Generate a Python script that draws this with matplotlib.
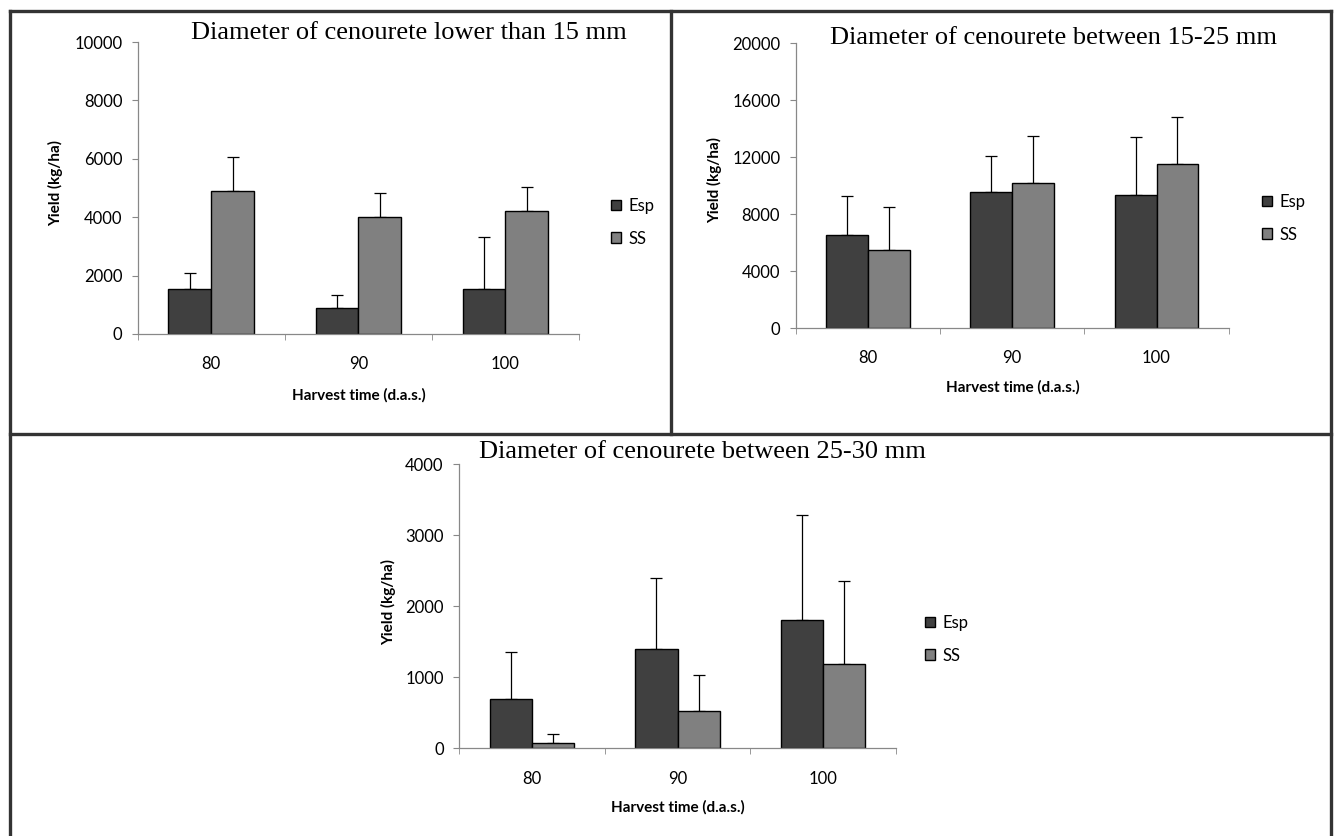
import matplotlib.pyplot as plt
from matplotlib.lines import Line2D
from matplotlib.patches import Patch
import numpy as np

W, H = 1335, 836

harvest = ["80", "90", "100"]
series = ["Esp", "SS"]

# panel 1: diameter < 15 mm
esp1 = [1540, 900, 1540]
ss1 = [4910, 4000, 4200]
esp1_top = [2090, 1330, 3330]
ss1_top = [6060, 4820, 5050]

# panel 2: diameter 15-25 mm
esp2 = [6500, 9550, 9350]
ss2 = [5450, 10200, 11500]
esp2_top = [9250, 12100, 13400]
ss2_top = [8500, 13500, 14800]

# panel 3: diameter 25-30 mm
esp3 = [690, 1400, 1810]
ss3 = [80, 520, 1190]
esp3_top = [1350, 2400, 3280]
ss3_top = [200, 1030, 2350]

titles = ["Diameter of cenourete lower than 15 mm",
          "Diameter of cenourete between 15-25 mm",
          "Diameter of cenourete between 25-30 mm"]

c_esp = "#404040"
c_ss = "#808080"

plt.rcParams['font.family'] = ['Lato', 'DejaVu Sans']

fig = plt.figure(figsize=(W / 100, H / 100), dpi=100)


def fx(px):
    return px / W


def fy(py):
    return 1 - py / H


def panel(rect, esp, ss, esp_top, ss_top, ymax, step, title_xy, leg_xy, xl_xy, yl_xy, title):
    ax = fig.add_axes(rect)
    x = np.arange(len(harvest))
    bw = 0.29
    err_e = [np.zeros(3), np.array(esp_top) - np.array(esp)]
    err_s = [np.zeros(3), np.array(ss_top) - np.array(ss)]
    ax.bar(x - bw / 2, esp, bw, color=c_esp, edgecolor="black", linewidth=1.0, zorder=2)
    ax.bar(x + bw / 2, ss, bw, color=c_ss, edgecolor="black", linewidth=1.0, zorder=2)
    ax.errorbar(x - bw / 2, esp, yerr=err_e, fmt="none", ecolor="black",
                elinewidth=0.9, capsize=4, capthick=0.9, zorder=1)
    ax.errorbar(x + bw / 2, ss, yerr=err_s, fmt="none", ecolor="black",
                elinewidth=0.9, capsize=4, capthick=0.9, zorder=1)
    ax.set_xlim(-0.5, 2.5)
    ax.set_ylim(0, ymax)
    ax.set_yticks(np.arange(0, ymax + 1, step))
    ax.set_xticks(x)
    ax.set_xticklabels(harvest)
    ax.set_xticks([-0.5, 0.5, 1.5, 2.5], minor=True)
    ax.tick_params(axis="x", which="major", length=0, pad=16, labelsize=12)
    ax.tick_params(axis="x", which="minor", length=4, color="#888888", direction="out")
    ax.tick_params(axis="y", length=4, color="#888888", pad=7, labelsize=12)
    for s in ["top", "right"]:
        ax.spines[s].set_visible(False)
    for s in ["left", "bottom"]:
        ax.spines[s].set_color("#888888")
        ax.spines[s].set_linewidth(0.9)
    ax.set_xlabel("Harvest time (d.a.s.)", fontsize=11, fontweight="bold")
    ax.xaxis.set_label_coords(fx(xl_xy[0]), fy(xl_xy[1]), transform=fig.transFigure)
    ax.xaxis.label.set_va("center")
    ax.set_ylabel("Yield (kg/ha)", fontsize=11, fontweight="bold")
    ax.yaxis.set_label_coords(fx(yl_xy[0]), fy(yl_xy[1]), transform=fig.transFigure)
    ax.yaxis.label.set_va("center")
    fig.text(fx(title_xy[0]), fy(title_xy[1]), title, ha="center", va="center",
             fontsize=19, family="Liberation Serif")
    handles = [Patch(facecolor=c_esp, edgecolor="black", linewidth=1.0),
               Patch(facecolor=c_ss, edgecolor="black", linewidth=1.0)]
    ax.legend(handles, series, loc="upper left", frameon=False,
              bbox_to_anchor=(fx(leg_xy[0] - 5), fy(leg_xy[1] - 14)),
              bbox_transform=fig.transFigure, fontsize=12,
              handlelength=0.6, handleheight=0.6, handletextpad=0.45,
              labelspacing=1.0, borderaxespad=0, borderpad=0.3)
    return ax


panel([fx(137.6), fy(334), fx(579) - fx(137.6), 292 / H], esp1, ss1, esp1_top, ss1_top,
      10000, 2000, (409, 33), (611, 207), (359, 395), (56, 183), titles[0])
panel([fx(795.5), fy(328), fx(1228.7) - fx(795.5), 284.7 / H], esp2, ss2, esp2_top, ss2_top,
      20000, 4000, (1053, 38), (1262, 203), (1013, 387), (715, 180), titles[1])
panel([fx(459), fy(748.3), fx(896) - fx(459), 284 / H], esp3, ss3, esp3_top, ss3_top,
      4000, 1000, (702, 452), (925, 624), (678, 807), (389, 602), titles[2])

# frame lines
lc = "#333333"
lw = 2.4
fig.add_artist(Line2D([fx(10), fx(10)], [fy(11), 0], color=lc, lw=lw))
fig.add_artist(Line2D([fx(1331), fx(1331)], [fy(11), 0], color=lc, lw=lw))
fig.add_artist(Line2D([fx(10), fx(1331)], [fy(11), fy(11)], color=lc, lw=lw))
fig.add_artist(Line2D([fx(10), fx(1331)], [fy(434), fy(434)], color=lc, lw=lw))
fig.add_artist(Line2D([fx(671), fx(671)], [fy(11), fy(434)], color=lc, lw=lw))

fig.savefig("out.png", dpi=100)
